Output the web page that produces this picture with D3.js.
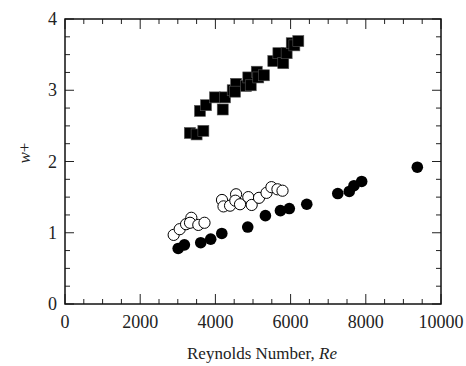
<!DOCTYPE html>
<html>
<head>
<meta charset="utf-8">
<script src="https://cdn.jsdelivr.net/npm/d3@7"></script>
<style>
  body { margin: 0; background: #fff; }
  text { font-family: "Liberation Serif", "DejaVu Serif", serif; fill: #222; }
</style>
</head>
<body>
<div id="chart"></div>
<script>
// squares (filled)
var sqRe = [3320, 3500, 3680, 3590, 3750, 3990, 4255, 4195, 4460, 4550, 4520, 4815, 4875, 4940, 5100, 5140, 5290, 5540, 5675, 5805, 5895, 6030, 6100, 6205];
var sqW  = [2.40, 2.38, 2.43, 2.71, 2.79, 2.90, 2.90, 2.73, 3.00, 3.09, 2.98, 3.06, 3.18, 3.07, 3.26, 3.18, 3.21, 3.41, 3.52, 3.38, 3.52, 3.66, 3.63, 3.69];

// open circles
var openRe = [2890, 3050, 3220, 3360, 3325, 3545, 3710, 4175, 4215, 4390, 4550, 4530, 4655, 4875, 4965, 5160, 5360, 5490, 5650, 5785];
var openW  = [0.97, 1.05, 1.12, 1.21, 1.14, 1.11, 1.14, 1.46, 1.37, 1.38, 1.54, 1.45, 1.40, 1.50, 1.39, 1.49, 1.56, 1.64, 1.61, 1.59];

// filled circles
var fillRe = [3010, 3175, 3610, 3875, 4170, 4860, 5330, 5730, 5965, 6430, 7255, 7560, 7685, 7890, 9370];
var fillW  = [0.78, 0.83, 0.86, 0.91, 0.99, 1.08, 1.24, 1.31, 1.34, 1.40, 1.55, 1.58, 1.66, 1.72, 1.92];

var xTicks = [0, 2000, 4000, 6000, 8000, 10000];
var yTicks = [0, 1, 2, 3, 4];

var width = 466, height = 366;
var margin = {top: 19, right: 25, bottom: 62, left: 65};

var svg = d3.select("#chart").append("svg")
  .attr("width", width)
  .attr("height", height);

var x = d3.scaleLinear().domain([0, 10000]).range([margin.left, width - margin.right]);
var y = d3.scaleLinear().domain([0, 4]).range([height - margin.bottom, margin.top]);

var x0 = x.range()[0], x1 = x.range()[1], y0 = y.range()[0], y1 = y.range()[1];

var ticksG = svg.append("g").attr("stroke", "#222").attr("stroke-width", 1);

// x ticks (inward, bottom + top)
d3.range(0, 10001, 500).forEach(function(v) {
  var len = v % 2000 === 0 ? 10 : 5;
  ticksG.append("line").attr("x1", x(v)).attr("x2", x(v)).attr("y1", y0).attr("y2", y0 - len);
  ticksG.append("line").attr("x1", x(v)).attr("x2", x(v)).attr("y1", y1).attr("y2", y1 + len);
});
// y ticks (inward, left + right)
d3.range(0, 4.001, 0.25).forEach(function(v) {
  var len = Math.abs(v - Math.round(v)) < 1e-6 ? 9 : 5;
  ticksG.append("line").attr("y1", y(v)).attr("y2", y(v)).attr("x1", x0).attr("x2", x0 + len);
  ticksG.append("line").attr("y1", y(v)).attr("y2", y(v)).attr("x1", x1).attr("x2", x1 - len);
});

svg.append("rect")
  .attr("x", x0).attr("y", y1)
  .attr("width", x1 - x0).attr("height", y0 - y1)
  .attr("fill", "none").attr("stroke", "#111").attr("stroke-width", 1.5);

svg.selectAll(".xl").data(xTicks).enter().append("text")
  .attr("x", function(d) { return x(d); })
  .attr("y", y0 + 24)
  .attr("text-anchor", "middle")
  .style("font-size", "18px")
  .text(function(d) { return d; });

svg.selectAll(".yl").data(yTicks).enter().append("text")
  .attr("x", x0 - 8)
  .attr("y", function(d) { return y(d) + 6; })
  .attr("text-anchor", "end")
  .style("font-size", "18px")
  .text(function(d) { return d; });

var xt = svg.append("text")
  .attr("x", 262).attr("y", 359)
  .attr("text-anchor", "middle")
  .style("font-size", "17px");
xt.append("tspan").text("Reynolds Number, ");
xt.append("tspan").style("font-style", "italic").text("Re");

var yt = svg.append("text")
  .attr("transform", "translate(30,153) rotate(-90)")
  .attr("text-anchor", "middle")
  .style("font-size", "17px");
yt.append("tspan").style("font-style", "italic").text("w");
yt.append("tspan").text("+");

var s = 11;
svg.append("g").selectAll("rect").data(sqRe).enter().append("rect")
  .attr("x", function(d) { return x(d) - s / 2; })
  .attr("y", function(d, i) { return y(sqW[i]) - s / 2; })
  .attr("width", s).attr("height", s)
  .attr("fill", "#000").attr("stroke", "#555").attr("stroke-width", 0.6);

svg.append("g").selectAll("circle").data(openRe).enter().append("circle")
  .attr("cx", function(d) { return x(d); })
  .attr("cy", function(d, i) { return y(openW[i]); })
  .attr("r", 5.6)
  .attr("fill", "#fff").attr("stroke", "#000").attr("stroke-width", 1);

svg.append("g").selectAll("circle").data(fillRe).enter().append("circle")
  .attr("cx", function(d) { return x(d); })
  .attr("cy", function(d, i) { return y(fillW[i]); })
  .attr("r", 5.8)
  .attr("fill", "#000");
</script>
</body>
</html>
